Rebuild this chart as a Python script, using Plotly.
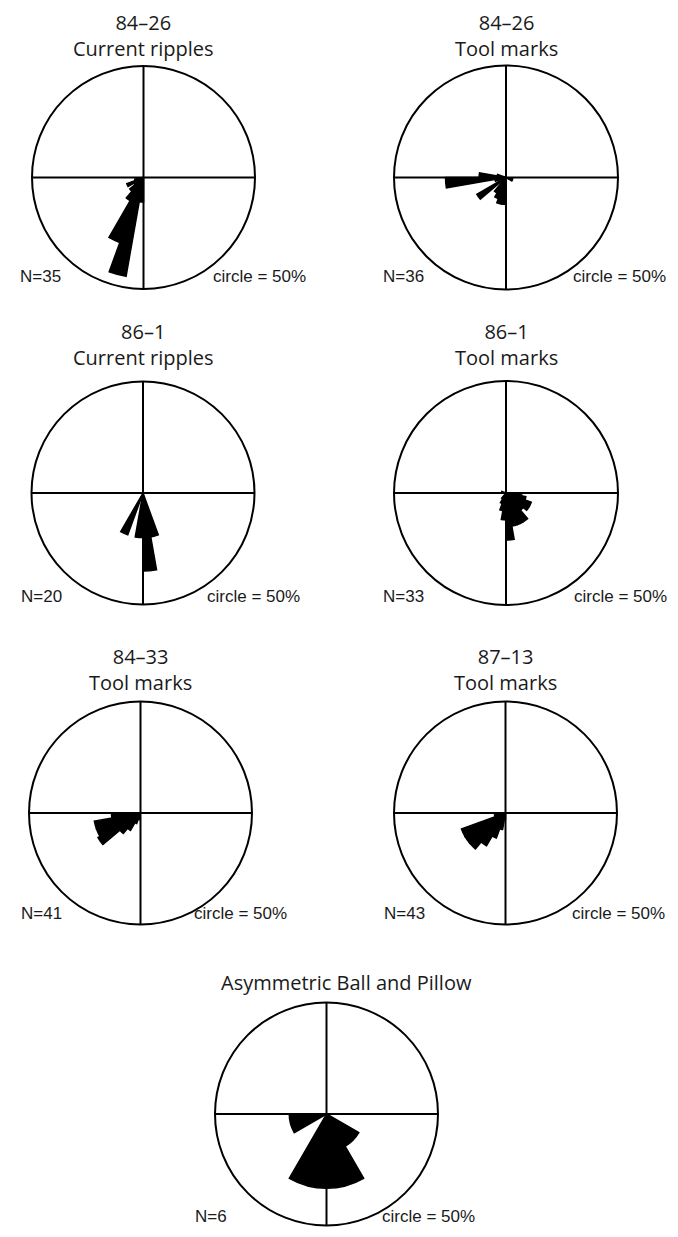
import plotly.graph_objects as go

# page has an 8px body margin; figure is drawn from (8, 8)
OFF = 8
W, H = 678 - OFF, 1237 - OFF

# ---- data: bin centre directions (deg, clockwise from north) and % of readings ----
r1_dir = [185, 195, 205, 215, 225, 235, 245, 255]
r1_pct = [11, 45, 31, 12, 8, 5, 8, 4]

r2_dir = [105, 115, 185, 195, 205, 215, 235, 255, 265, 275, 285]
r2_pct = [3, 3, 12, 12, 10, 8, 15, 5, 27, 12, 4]

r3_dir = [165, 175, 185, 205]
r3_pct = [20, 35, 20, 20]

r4_dir = [95, 105, 115, 125, 135, 145, 155, 165, 175, 185, 195, 205, 215, 285]
r4_pct = [7, 9, 12, 12, 10, 15, 15, 15, 21, 12, 8, 5, 3, 2]

r5_dir = [195, 205, 215, 225, 235, 245, 255, 265]
r5_pct = [3, 5, 9, 12, 22, 21, 21, 13]

r6_dir = [185, 195, 205, 215, 225, 235, 245, 255, 265]
r6_pct = [3, 7.5, 12, 17, 21, 21, 21, 5, 4]

r7_dir = [135, 165, 195, 255]
r7_pct = [16.7, 33.3, 33.3, 16.7]

titles = [["84–26", "Current ripples"], ["84–26", "Tool marks"],
          ["86–1", "Current ripples"], ["86–1", "Tool marks"],
          ["84–33", "Tool marks"], ["87–13", "Tool marks"],
          ["Asymmetric Ball and Pillow"]]
n_labels = ["N=35", "N=36", "N=20", "N=33", "N=41", "N=43", "N=6"]
scale_label = "circle = 50%"
bin_widths = [10, 10, 10, 10, 10, 10, 30]

dirs = [r1_dir, r2_dir, r3_dir, r4_dir, r5_dir, r6_dir, r7_dir]
pcts = [r1_pct, r2_pct, r3_pct, r4_pct, r5_pct, r6_pct, r7_pct]

# ---- layout geometry (screen pixels) ----
centers = [(143.5, 177.5, 111.5), (506, 177.5, 112), (143, 493, 111.5), (506, 493, 112),
           (140.5, 813, 111.5), (505.5, 813, 111.5), (326.5, 1114, 111.5)]
title_x = [143.5, 506, 143, 506, 140.5, 505.5, 346]
# (y, anchor) of each title block in screen pixels
title_pos = [(8, "top"), (8, "top"), (345, "middle"), (345, "middle"),
             (669, "middle"), (669, "middle"), (982, "middle")]
n_pos = [(18, 276), (381, 276), (19, 596), (381, 596), (19, 913), (382, 913), (193, 1216)]
c_pos = [(211, 276), (571, 276), (205, 596), (572, 596), (192, 913), (570, 913), (380, 1216)]


def px(x):
    return (x - OFF) / W


def py(y):
    return 1 - (y - OFF) / H


fig = go.Figure()
annotations = []
for i in range(7):
    pid = "polar" if i == 0 else f"polar{i+1}"
    fig.add_trace(go.Barpolar(
        r=pcts[i], theta=dirs[i], width=[bin_widths[i]] * len(dirs[i]),
        marker=dict(color="black", line=dict(color="black", width=1.5)),
        subplot=pid, showlegend=False, hoverinfo="skip"))
    cx, cy, rr = centers[i]
    fig.layout[pid] = dict(
        domain=dict(x=[px(cx - rr), px(cx + rr)], y=[py(cy + rr), py(cy - rr)]),
        bgcolor="white",
        radialaxis=dict(range=[0, 50], visible=False),
        angularaxis=dict(direction="clockwise", rotation=90, tickvals=[0, 90, 180, 270],
                         showticklabels=False, ticks="", showgrid=True, gridcolor="black",
                         gridwidth=1.6, showline=True, linecolor="black", linewidth=2),
    )
    ty, anchor = title_pos[i]
    annotations.append(dict(text="<br>".join(titles[i]), x=px(title_x[i]), y=py(ty),
                            xref="paper", yref="paper", xanchor="center", yanchor=anchor,
                            borderpad=0, align="center",
                            showarrow=False,
                            font=dict(family="Open Sans", size=20, color="#1a1a1a")))
    annotations.append(dict(text=n_labels[i], x=px(n_pos[i][0]), y=py(n_pos[i][1]),
                            xref="paper", yref="paper", xanchor="left", yanchor="middle",
                            showarrow=False,
                            font=dict(family="Liberation Sans", size=17, color="#1a1a1a")))
    annotations.append(dict(text=scale_label, x=px(c_pos[i][0]), y=py(c_pos[i][1]),
                            xref="paper", yref="paper", xanchor="left", yanchor="middle",
                            showarrow=False,
                            font=dict(family="Liberation Sans", size=17, color="#1a1a1a")))

fig.update_layout(width=W, height=H, margin=dict(l=0, r=0, t=0, b=0),
                  paper_bgcolor="white", plot_bgcolor="white",
                  annotations=annotations, showlegend=False)
fig.write_html("out.html")
